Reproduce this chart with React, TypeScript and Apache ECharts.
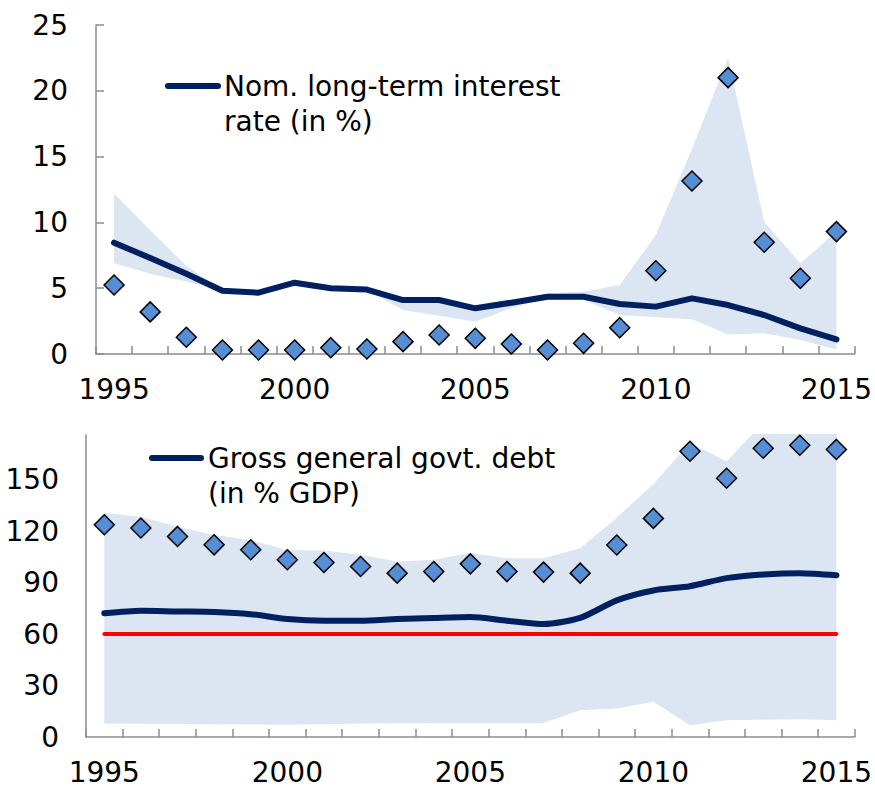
import React, { useEffect, useRef } from "react";
import * as echarts from "echarts";

const years: string[] = [
  "1995", "1996", "1997", "1998", "1999", "2000", "2001", "2002", "2003", "2004",
  "2005", "2006", "2007", "2008", "2009", "2010", "2011", "2012", "2013", "2014", "2015",
];

// Top panel: nominal long-term interest rate (%)
const rateLine: number[] = [8.46, 7.3, 6.1, 4.8, 4.66, 5.42, 4.99, 4.9, 4.1, 4.1, 3.47, 3.9, 4.35, 4.35, 3.8, 3.6, 4.23, 3.72, 2.96, 1.95, 1.11];
const rateLow: number[] = [6.9, 6.1, 5.5, 4.75, 4.6, 5.35, 4.95, 4.85, 3.34, 2.9, 2.45, 3.5, 4.3, 4.1, 2.96, 2.79, 2.64, 1.49, 1.57, 1.06, 0.35];
const rateHigh: number[] = [12.2, 9.4, 6.7, 4.85, 4.7, 5.45, 5.0, 4.95, 4.15, 4.15, 3.5, 3.95, 4.6, 4.75, 5.24, 9.04, 15.6, 22.5, 10.05, 6.89, 9.3];
const ratePoints: number[] = [5.24, 3.2, 1.27, 0.3, 0.3, 0.3, 0.48, 0.38, 0.94, 1.44, 1.19, 0.76, 0.3, 0.81, 2.0, 6.33, 13.15, 21.0, 8.49, 5.75, 9.3];
const rateTicks = { min: 0, max: 25, interval: 5 };

// Bottom panel: gross general government debt (% of GDP)
const debtLine: number[] = [72.1, 73.6, 73.2, 72.9, 71.6, 68.8, 67.8, 67.8, 68.8, 69.4, 69.9, 67.8, 65.8, 69.4, 79.6, 85.4, 87.9, 92.6, 94.7, 95.5, 94.3];
const debtLow: number[] = [7.8, 7.7, 7.6, 7.5, 7.3, 7.2, 7.5, 7.8, 8.0, 8.2, 8.2, 8.2, 8.2, 15.6, 16.6, 20.5, 6.8, 9.8, 10.1, 10.3, 9.8];
const debtHigh: number[] = [130.7, 128.4, 122.6, 117.7, 114.8, 109, 108.7, 106.2, 102.3, 103.3, 107.2, 104.2, 104.2, 110, 127.8, 147.5, 171.5, 160.7, 183, 185, 181];
const debtPoints: number[] = [123.7, 121.8, 116.9, 112, 109.1, 103.3, 101.7, 99.4, 95.5, 96.4, 100.9, 96.4, 96.1, 95.5, 111.9, 127.4, 166.5, 150.8, 168.3, 170, 167.6];
const debtReference: number[] = [60, 60, 60, 60, 60, 60, 60, 60, 60, 60, 60, 60, 60, 60, 60, 60, 60, 60, 60, 60, 60];
const debtTicks = { min: 0, max: 176, interval: 30 };

const FONT = "DejaVu Sans, Verdana, sans-serif";
const FS = 28;
const NAVY = "#002060";
const BAND = "#DCE6F2";
const DIAMOND = "#558ED5";
const AXIS = "#8C8C8C";

function xAxis(gridIndex: number) {
  return {
    type: "category",
    gridIndex,
    data: years,
    boundaryGap: true,
    axisLine: { show: true, lineStyle: { color: AXIS, width: 1.5 } },
    axisTick: { show: true, inside: true, length: 8, interval: 0, lineStyle: { color: AXIS, width: 1.5 } },
    axisLabel: { interval: 4, color: "#000", fontFamily: FONT, fontSize: FS, margin: 21 },
    splitLine: { show: false },
  };
}

export default function App() {
  const ref = useRef<HTMLDivElement>(null);
  useEffect(() => {
    document.body.style.margin = "0";
    if (!ref.current) return;
    const chart = echarts.init(ref.current, null, { renderer: "svg" });
    const bandRate = rateHigh.map((h, i) => +(h - rateLow[i]).toFixed(3));
    const bandDebt = debtHigh.map((h, i) => +(h - debtLow[i]).toFixed(3));
    const diamondStyle = { color: DIAMOND, borderColor: "#000", borderWidth: 1.5, opacity: 1 };
    const option: any = {
      animation: false,
      backgroundColor: "#fff",
      grid: [
        { left: 96, right: 17, top: 25, bottom: 434 },
        { left: 86, right: 19, top: 435, bottom: 51 },
      ],
      xAxis: [xAxis(0), xAxis(1)],
      yAxis: [
        {
          type: "value",
          gridIndex: 0,
          ...rateTicks,
          axisLine: { show: true, lineStyle: { color: AXIS, width: 1.5 } },
          axisTick: { show: true, inside: true, length: 8, lineStyle: { color: AXIS, width: 1.5 } },
          axisLabel: { color: "#000", fontFamily: FONT, fontSize: FS, margin: 28 },
          splitLine: { show: false },
        },
        {
          type: "value",
          gridIndex: 1,
          ...debtTicks,
          axisLine: { show: true, lineStyle: { color: AXIS, width: 1.5 } },
          axisTick: { show: false },
          axisLabel: { color: "#000", fontFamily: FONT, fontSize: FS, margin: 27, showMaxLabel: false },
          splitLine: { show: false },
        },
      ],
      series: [
        {
          type: "line", xAxisIndex: 0, yAxisIndex: 0, stack: "rateBand", data: rateLow, z: 1,
          symbol: "none", lineStyle: { opacity: 0 }, silent: true,
        },
        {
          type: "line", xAxisIndex: 0, yAxisIndex: 0, stack: "rateBand", data: bandRate, z: 1,
          symbol: "none", lineStyle: { opacity: 0 }, areaStyle: { color: BAND, opacity: 1 }, silent: true,
        },
        {
          type: "line", xAxisIndex: 0, yAxisIndex: 0, data: rateLine, z: 3,
          symbol: "none", lineStyle: { color: NAVY, width: 6, cap: "round", join: "round" },
        },
        {
          type: "scatter", xAxisIndex: 0, yAxisIndex: 0, data: ratePoints, z: 10,
          symbol: "diamond", symbolSize: 20, itemStyle: diamondStyle,
        },
        {
          type: "line", xAxisIndex: 1, yAxisIndex: 1, stack: "debtBand", data: debtLow, z: 1,
          symbol: "none", lineStyle: { opacity: 0 }, silent: true,
        },
        {
          type: "line", xAxisIndex: 1, yAxisIndex: 1, stack: "debtBand", data: bandDebt, z: 1,
          symbol: "none", lineStyle: { opacity: 0 }, areaStyle: { color: BAND, opacity: 1 }, silent: true,
        },
        {
          type: "line", xAxisIndex: 1, yAxisIndex: 1, data: debtReference, z: 3,
          symbol: "none", lineStyle: { color: "#FF0000", width: 4, cap: "round" },
        },
        {
          type: "line", xAxisIndex: 1, yAxisIndex: 1, data: debtLine, smooth: 0.25, z: 4,
          symbol: "none", lineStyle: { color: NAVY, width: 6, cap: "round", join: "round" },
        },
        {
          type: "scatter", xAxisIndex: 1, yAxisIndex: 1, data: debtPoints, z: 10,
          symbol: "diamond", symbolSize: 20, itemStyle: diamondStyle,
        },
      ],
      graphic: [
        { type: "line", shape: { x1: 168, y1: 86, x2: 218, y2: 86 }, style: { stroke: NAVY, lineWidth: 6, lineCap: "round" } },
        { type: "text", x: 224, y: 86, style: { text: "Nom. long-term interest", font: `${FS}px ${FONT}`, fill: "#000", verticalAlign: "middle" } },
        { type: "text", x: 224, y: 121, style: { text: "rate (in %)", font: `${FS}px ${FONT}`, fill: "#000", verticalAlign: "middle" } },
        { type: "line", shape: { x1: 152, y1: 458, x2: 201, y2: 458 }, style: { stroke: NAVY, lineWidth: 6, lineCap: "round" } },
        { type: "text", x: 208, y: 458, style: { text: "Gross general govt. debt", font: `${FS}px ${FONT}`, fill: "#000", verticalAlign: "middle" } },
        { type: "text", x: 208, y: 493, style: { text: "(in % GDP)", font: `${FS}px ${FONT}`, fill: "#000", verticalAlign: "middle" } },
      ],
    };
    chart.setOption(option);
    return () => chart.dispose();
  }, []);
  return <div ref={ref} style={{ width: 875, height: 788 }} />;
}
